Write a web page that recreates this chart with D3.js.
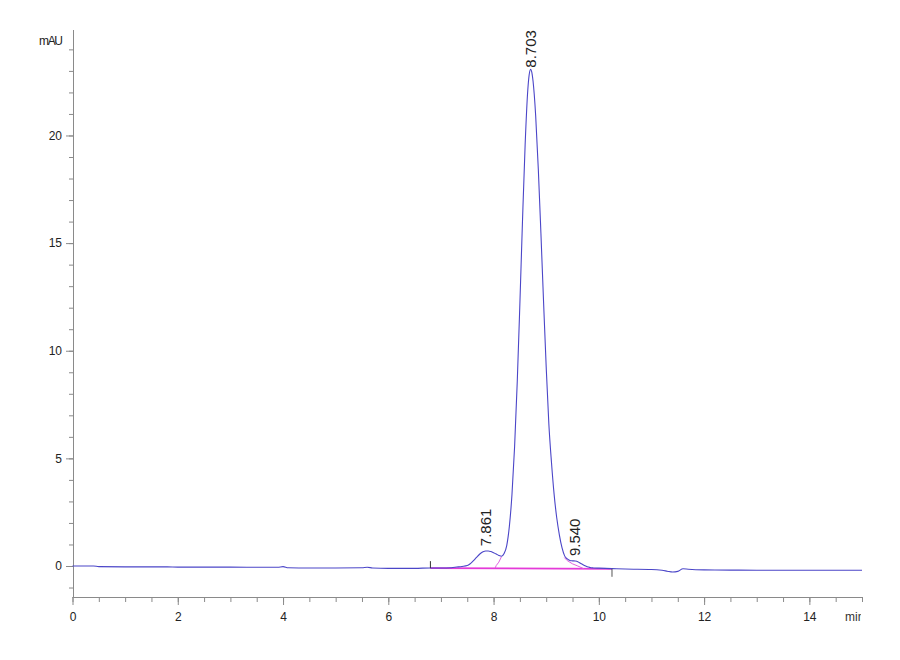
<!DOCTYPE html>
<html>
<head>
<meta charset="utf-8">
<script src="https://cdn.jsdelivr.net/npm/d3@7"></script>
<style>
  html, body { margin: 0; padding: 0; background: #fff; }
  svg { display: block; }
  text { font-family: "Liberation Sans", Arial, sans-serif; }
</style>
</head>
<body>
<svg id="chart" width="900" height="660"></svg>
<script>
// ---------- DATA ----------
const traceTimes = [
  0, 0.4, 0.5, 1.0, 1.8, 2.0, 3.0, 3.5, 3.9, 4.0, 4.1, 4.5, 5.0, 5.5, 5.6, 5.7, 6.0, 6.5, 6.8,
  7.0, 7.2, 7.3, 7.4, 7.5, 7.55, 7.6, 7.65, 7.7, 7.75, 7.8, 7.85, 7.9, 7.95, 8.0, 8.05, 8.1, 8.15,
  8.2, 8.25, 8.3, 8.35, 8.4, 8.45, 8.5, 8.55, 8.6, 8.65, 8.675, 8.703, 8.725, 8.75, 8.8, 8.85,
  8.9, 8.95, 9.0, 9.05, 9.1, 9.15, 9.2, 9.25, 9.3, 9.35, 9.4, 9.45, 9.5, 9.55, 9.6, 9.65, 9.7,
  9.75, 9.8, 9.85, 9.9, 10.0, 10.25, 10.5, 11.0, 11.2, 11.3, 11.4, 11.5, 11.6, 11.7, 12.0, 12.5,
  13.0, 13.5, 14.0, 14.5, 15.0
];
const traceValues = [
  0.0, 0.0, -0.03, -0.04, -0.04, -0.05, -0.05, -0.06, -0.06, -0.03, -0.08, -0.09, -0.09, -0.08, -0.06, -0.09, -0.11, -0.11, -0.09,
  -0.09, -0.08, -0.05, -0.02, 0.02, 0.09, 0.2, 0.33, 0.46, 0.58, 0.66, 0.7, 0.7, 0.67, 0.62, 0.56, 0.49, 0.45,
  0.58, 0.95, 1.84, 3.33, 5.56, 8.56, 12.19, 16.06, 19.58, 22.1, 22.79, 23.07, 22.96, 22.53, 20.92, 18.44,
  15.43, 12.26, 9.24, 6.61, 4.82, 3.34, 2.24, 1.45, 0.85, 0.47, 0.33, 0.26, 0.24, 0.23, 0.2, 0.13, 0.06,
  0.0, -0.05, -0.08, -0.09, -0.1, -0.12, -0.14, -0.16, -0.2, -0.24, -0.28, -0.25, -0.13, -0.15, -0.18, -0.19,
  -0.2, -0.2, -0.2, -0.2, -0.2
];

// integration baseline and peak skims (pink)
const baseTimes = [6.8, 10.25];
const baseValues = [-0.1, -0.13];
const skimLeftTimes = [8.15, 8.1, 8.05, 8.03];
const skimLeftValues = [0.43, 0.18, 0.02, -0.1];
const skimRightTimes = [9.345, 9.4, 9.5, 9.6, 9.71];
const skimRightValues = [0.39, 0.25, 0.1, 0.0, -0.12];

// peak labels
const peakTimes = [7.861, 8.703, 9.540];
const peakLabels = ["7.861", "8.703", "9.540"];
const peakLabelValues = [0.92, 23.15, 0.46];

// axis ticks
const xMajorTicks = [0, 2, 4, 6, 8, 10, 12, 14];
const xMinorTicks = d3.range(0, 15.01, 0.5);
const yMajorTicks = [0, 5, 10, 15, 20];
const yMinorTicks = d3.range(-1, 25, 1);

// ---------- DRAW ----------
const svg = d3.select("#chart");
const x = d3.scaleLinear().domain([0, 15]).range([72.5, 862]);
const y = d3.scaleLinear().domain([-1.44, 24.9]).range([597, 30]);

const axisColor = "#8a8a8a";

svg.append("defs").append("clipPath").attr("id", "clipR")
  .append("rect").attr("x", 0).attr("y", 0).attr("width", 861).attr("height", 660);

// x axis
const gx = svg.append("g").attr("transform", `translate(0,597)`);
gx.call(d3.axisBottom(x).tickValues(xMinorTicks).tickSize(5).tickFormat(""));
gx.call(g => g.selectAll(".domain").remove());
const gx2 = svg.append("g").attr("transform", `translate(0,597)`);
gx2.call(d3.axisBottom(x).tickValues(xMajorTicks).tickSize(8).tickPadding(7).tickFormat(d3.format("d")));
gx2.select(".domain").attr("d", `M${x(0)},0.5H${x(15)}`);
[gx, gx2].forEach(g => {
  g.selectAll("line").attr("stroke", axisColor);
  g.selectAll("path").attr("stroke", axisColor);
  g.selectAll("text").attr("fill", "#222").style("font-size", "12px");
});

// y axis
const gy = svg.append("g").attr("transform", `translate(73,0)`);
gy.call(d3.axisLeft(y).tickValues(yMinorTicks).tickSize(4).tickFormat(""));
gy.call(g => g.selectAll(".domain").remove());
const gy2 = svg.append("g").attr("transform", `translate(73,0)`);
gy2.call(d3.axisLeft(y).tickValues(yMajorTicks).tickSize(7).tickPadding(4).tickFormat(d3.format("d")));
gy2.select(".domain").attr("d", `M0.5,30V597`);
[gy, gy2].forEach(g => {
  g.selectAll("line").attr("stroke", axisColor);
  g.selectAll("path").attr("stroke", axisColor);
  g.selectAll("text").attr("fill", "#222").style("font-size", "12px");
});

// axis titles
svg.append("text").attr("x", 63).attr("y", 45).attr("text-anchor", "end")
  .style("font-size", "12px").attr("fill", "#222").attr("textLength", 24).text("mAU");
svg.append("text").attr("x", 845).attr("y", 621).attr("clip-path", "url(#clipR)")
  .style("font-size", "12px").attr("fill", "#333").text("min");

// lines
const line = d3.line().x(d => x(d[0])).y(d => y(d[1]));
const zip = (a, b) => a.map((t, i) => [t, b[i]]);

svg.append("path").datum(zip(baseTimes, baseValues))
  .attr("d", line).attr("fill", "none").attr("stroke", "#e43ad8").attr("stroke-width", 1.8);
svg.append("path").datum(zip(skimLeftTimes, skimLeftValues))
  .attr("d", line).attr("fill", "none").attr("stroke", "#e060e0").attr("stroke-width", 1);
svg.append("path").datum(zip(skimRightTimes, skimRightValues))
  .attr("d", line).attr("fill", "none").attr("stroke", "#e060e0").attr("stroke-width", 1);

svg.append("path").datum(zip(traceTimes, traceValues))
  .attr("d", d3.line().x(d => x(d[0])).y(d => y(d[1])).curve(d3.curveMonotoneX))
  .attr("fill", "none").attr("stroke", "#4b46c8").attr("stroke-width", 1.1);

// baseline start/end markers
svg.append("line").attr("x1", x(baseTimes[0])).attr("x2", x(baseTimes[0]))
  .attr("y1", y(baseValues[0])).attr("y2", y(baseValues[0]) - 7)
  .attr("stroke", "#333").attr("stroke-width", 1);
svg.append("line").attr("x1", x(baseTimes[1])).attr("x2", x(baseTimes[1]))
  .attr("y1", y(baseValues[1])).attr("y2", y(baseValues[1]) + 8)
  .attr("stroke", "#555").attr("stroke-width", 1);

// peak labels
peakTimes.forEach((t, i) => {
  const px = x(t) + 5, py = y(peakLabelValues[i]);
  svg.append("text")
    .attr("transform", `translate(${px},${py}) rotate(-90)`)
    .attr("text-anchor", "start")
    .style("font-size", "15px").attr("fill", "#222")
    .text(peakLabels[i]);
});
</script>
</body>
</html>
